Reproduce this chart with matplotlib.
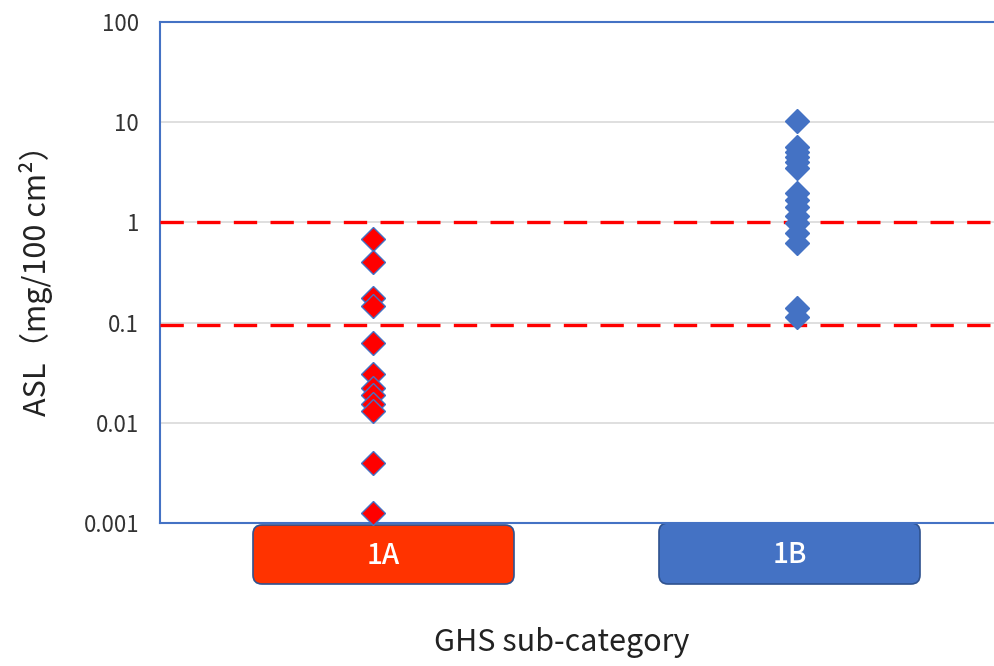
import matplotlib
matplotlib.use("Agg")
import matplotlib.pyplot as plt
from matplotlib.patches import FancyBboxPatch

plt.rcParams['font.family'] = ['Noto Sans CJK JP', 'DejaVu Sans']

categories = ["1A", "1B"]
asl_1a = [0.69, 0.40, 0.178, 0.148, 0.062, 0.031, 0.022, 0.019, 0.0155, 0.0132, 0.004, 0.00126]
asl_1b = [10.2, 5.6, 5.0, 4.5, 4.0, 3.5, 1.95, 1.66, 1.41, 1.17, 0.98, 0.79, 0.63, 0.14, 0.115]
thresholds = [1.0, 0.095]
yticks = [0.001, 0.01, 0.1, 1, 10, 100]
ytick_labels = ["0.001", "0.01", "0.1", "1", "10", "100"]

W, H = 995, 666
fig = plt.figure(figsize=(W/100, H/100), dpi=100)
ax = fig.add_axes([160/W, (H-523)/H, (W-160)/W + 0.01, 501/H])

ax.set_yscale('log')
ax.set_ylim(0.001, 100)
ax.set_xlim(0.4964, 2.49)

for v in yticks[1:-1]:
    ax.axhline(v, color='#D9D9D9', lw=1.2, zorder=0)
for t in thresholds:
    ax.axhline(t, color='#FF0000', lw=2.4, dashes=(7, 4), zorder=3)

ax.plot([1]*len(asl_1a), asl_1a, 'D', ms=12.5, mfc='#FF0000', mec='#4472C4', mew=1.0, ls='none', zorder=4, clip_on=False)
ax.plot([2]*len(asl_1b), asl_1b, 'D', ms=12.5, mfc='#4472C4', mec='#4472C4', mew=1.0, ls='none', zorder=4, clip_on=False)

ax.set_yticks(yticks)
ax.set_yticklabels(ytick_labels, fontsize=16, color='#333333')
ax.yaxis.set_minor_locator(matplotlib.ticker.NullLocator())
ax.tick_params(axis='y', length=0, pad=15)
ax.set_xticks([])
for s in ['left', 'top', 'bottom']:
    ax.spines[s].set_color('#4472C4')
    ax.spines[s].set_linewidth(1.5)
ax.spines['right'].set_visible(False)

ax.set_ylabel("ASL（mg/100 cm²）", fontsize=22, labelpad=22, color='#222222')

# category boxes (pixel overlay)
ov = fig.add_axes([0, 0, 1, 1], zorder=-1)
ov.set_xlim(0, W)
ov.set_ylim(H, 0)
ov.axis('off')
box_specs = [(253, 525, 261, 59, '#FF3300'), (659, 523, 261, 61, '#4472C4')]
for cat, (x0, y0, w, h, c) in zip(categories, box_specs):
    p = FancyBboxPatch((x0, y0), w, h, boxstyle="round,pad=0,rounding_size=9",
                       fc=c, ec='#2F528F', lw=1.2)
    ov.add_patch(p)
    ov.text(x0 + w/2, y0 + h/2 + 1, cat, color='white', fontsize=20,
            fontweight='medium', ha='center', va='center')

ov.text(562, 643, "GHS sub-category", fontsize=22, ha='center', va='center', color='#222222')

fig.savefig("out.png", dpi=100)
